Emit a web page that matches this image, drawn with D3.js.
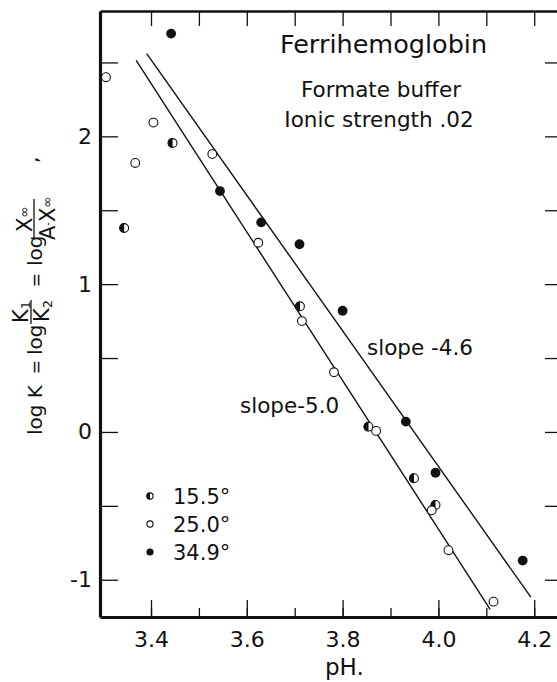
<!DOCTYPE html>
<html>
<head>
<meta charset="utf-8">
<script src="https://cdn.jsdelivr.net/npm/d3@7"></script>
<style>
  body { margin: 0; background: #fff; }
  svg { display: block; font-family: "DejaVu Sans", sans-serif; }
  .tick line { stroke: #111; stroke-width: 1.3px; }
  .tick text { font-size: 22px; fill: #111; font-family: "DejaVu Sans", sans-serif; }
</style>
</head>
<body>
<div id="chart"></div>
<script>

// Data: [pH, log K]
const temps = ["15.5°", "25.0°", "34.9°"]
const half155 = [[3.344, 1.38], [3.445, 1.955], [3.711, 0.85], [3.854, 0.036], [3.949, -0.313], [3.994, -0.494]]
const open250 = [[3.306, 2.40], [3.367, 1.82], [3.405, 2.093], [3.528, 1.88], [3.624, 1.28], [3.715, 0.75],
    [3.782, 0.404], [3.870, 0.007], [3.986, -0.53], [4.021, -0.80], [4.115, -1.148]]
const full349 = [[3.442, 2.695], [3.544, 1.63], [3.630, 1.418], [3.710, 1.27], [3.800, 0.82],
    [3.932, 0.07], [3.994, -0.276], [4.176, -0.87]]

// fitted lines
const slope50 = [[3.369, 2.514], [4.108, -1.20]]
const slope46 = [[3.391, 2.56], [4.193, -1.118]]

const phMajor = [3.4, 3.6, 3.8, 4.0, 4.2]
const phLabels = ["3.4", "3.6", "3.8", "4.0", "4.2"]
const phMinor = [3.4, 3.5, 3.6, 3.7, 3.8, 3.9, 4.0, 4.1, 4.2]
const yTicks = [-1, -0.5, 0, 0.5, 1, 1.5, 2, 2.5]
const yLabels = ["-1", "", "0", "", "1", "", "2", ""]

const ink = "#111"

const svg = d3.select("#chart")
    .append("svg")
    .attr("width", 557)
    .attr("height", 682)

const x = d3.scaleLinear().domain([3.2935, 4.2476]).range([100, 557])
const y = d3.scaleLinear().domain([-1.252, 2.848]).range([617, 11])

// Axes
const leftAxis = svg.append("g")
    .attr("transform", "translate(100,0)")
    .call(d3.axisLeft(y).tickValues(yTicks).tickSize(-18).tickSizeOuter(0)
        .tickPadding(8).tickFormat((d, i) => yLabels[i]))
leftAxis.select(".domain").attr("stroke", ink).attr("stroke-width", 3.2)

const rightAxis = svg.append("g")
    .attr("transform", "translate(557,0)")
    .call(d3.axisRight(y).tickValues(yTicks).tickSize(-12).tickFormat(""))
rightAxis.select(".domain").remove()

const bottomAxis = svg.append("g")
    .attr("transform", "translate(0,617)")
    .call(d3.axisBottom(x).tickValues(phMajor).tickSize(-17).tickSizeOuter(0)
        .tickPadding(14).tickFormat((d, i) => phLabels[i]))
bottomAxis.select(".domain").attr("stroke", ink).attr("stroke-width", 3.2)

const bottomMinor = svg.append("g")
    .attr("transform", "translate(0,617)")
    .call(d3.axisBottom(x).tickValues(phMinor).tickSize(-9).tickFormat(""))
bottomMinor.select(".domain").remove()

const topAxis = svg.append("g")
    .attr("transform", "translate(0,11)")
    .call(d3.axisTop(x).tickValues(phMinor).tickSize(-15).tickSizeOuter(0).tickFormat(""))
topAxis.select(".domain").attr("stroke", ink).attr("stroke-width", 2.6)

// Lines
const line = d3.line().x(d => x(d[0])).y(d => y(d[1]))
svg.selectAll("path.fit")
    .data([slope50, slope46])
    .enter()
    .append("path")
    .attr("class", "fit")
    .attr("d", line)
    .attr("fill", "none")
    .attr("stroke", ink)
    .attr("stroke-width", 1.4)

// Markers
function drawMarker(g, kind, r) {
    if (kind === "full") {
        g.append("circle").attr("r", r).attr("fill", ink)
    } else {
        g.append("circle").attr("r", r - 0.5).attr("fill", "#fff")
            .attr("stroke", ink).attr("stroke-width", 1.1)
        if (kind === "half") {
            g.append("path")
                .attr("d", `M0,${-r} A${r},${r} 0 0 0 0,${r} Z`)
                .attr("fill", ink)
        }
    }
}

const series = [
    {kind: "half", pts: half155},
    {kind: "open", pts: open250},
    {kind: "full", pts: full349}
]

for (const s of series) {
    for (const p of s.pts) {
        const g = svg.append("g").attr("transform", `translate(${x(p[0])},${y(p[1])})`)
        drawMarker(g, s.kind, 4.9)
    }
}

// Legend
const legendY = [496, 524, 552]
temps.forEach((t, i) => {
    const g = svg.append("g").attr("transform", `translate(150,${legendY[i]})`)
    drawMarker(g, series[i].kind, 3.6)
    svg.append("text")
        .attr("x", 173)
        .attr("y", legendY[i] + 8)
        .attr("font-size", 21)
        .attr("fill", ink)
        .text(t)
})

// Annotations
svg.append("text").attr("x", 383.5).attr("y", 53).attr("text-anchor", "middle")
    .attr("font-size", 25.5).attr("fill", ink).text("Ferrihemoglobin")
svg.append("text").attr("x", 381).attr("y", 97).attr("text-anchor", "middle")
    .attr("font-size", 21.5).attr("fill", ink).text("Formate buffer")
svg.append("text").attr("x", 379).attr("y", 127).attr("text-anchor", "middle")
    .attr("font-size", 21.5).attr("fill", ink).text("Ionic strength .02")
svg.append("text").attr("x", 367).attr("y", 355)
    .attr("font-size", 21.5).attr("fill", ink).text("slope -4.6")
svg.append("text").attr("x", 240).attr("y", 413)
    .attr("font-size", 21.5).attr("fill", ink).text("slope-5.0")

// x title
svg.append("text").attr("x", 325).attr("y", 675)
    .attr("font-size", 23).attr("fill", ink).text("pH.")

// y title, built piece by piece in a rotated frame
const yl = svg.append("g")
    .attr("transform", "translate(42,437) rotate(-90)")
    .attr("fill", ink)

yl.append("text").attr("x", 2).attr("y", 0).attr("font-size", 20).text("log K")
yl.append("text").attr("x", 70).attr("y", 0).attr("font-size", 17).attr("text-anchor", "middle").text("=")
yl.append("text").attr("x", 82).attr("y", 0).attr("font-size", 20).text("log")

// K1 / K2
const f1 = yl.append("text").attr("x", 125).attr("y", -14).attr("font-size", 21).attr("text-anchor", "middle")
f1.append("tspan").text("K")
f1.append("tspan").attr("font-size", 13).attr("dy", 2).text("1")
yl.append("line").attr("x1", 113).attr("x2", 137).attr("y1", -11).attr("y2", -11)
    .attr("stroke", ink).attr("stroke-width", 1.3)
const f2 = yl.append("text").attr("x", 126).attr("y", 7).attr("font-size", 21).attr("text-anchor", "middle")
f2.append("tspan").text("K")
f2.append("tspan").attr("font-size", 13).attr("dy", 3).text("2")

yl.append("text").attr("x", 157).attr("y", 0).attr("font-size", 17).attr("text-anchor", "middle").text("=")
yl.append("text").attr("x", 171).attr("y", 0).attr("font-size", 20).text("log")

// X∞ / (A - X∞)
const f3 = yl.append("text").attr("x", 218).attr("y", -10).attr("font-size", 21).attr("text-anchor", "middle")
f3.append("tspan").text("X")
f3.append("tspan").attr("font-size", 14).attr("dy", -3).text("∞")
yl.append("line").attr("x1", 199).attr("x2", 238).attr("y1", -8).attr("y2", -8)
    .attr("stroke", ink).attr("stroke-width", 1.3)
const f4 = yl.append("text").attr("x", 219).attr("y", 13).attr("font-size", 21).attr("text-anchor", "middle")
f4.append("tspan").text("A")
f4.append("tspan").attr("font-size", 10).attr("dy", -4).text("-")
f4.append("tspan").attr("dy", 4).text("X")
f4.append("tspan").attr("font-size", 14).attr("dy", -3).text("∞")

yl.append("text").attr("x", 274).attr("y", -4).attr("font-size", 20).text(",")

</script>
</body>
</html>
